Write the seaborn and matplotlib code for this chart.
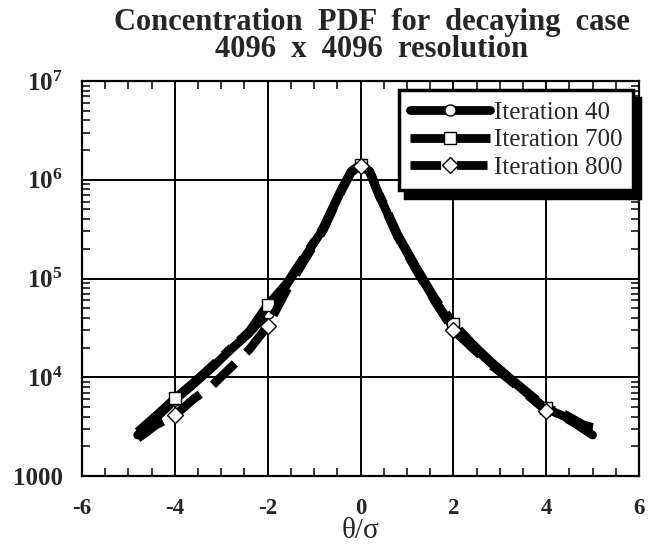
import numpy as np
import pandas as pd
import seaborn as sns
import matplotlib
matplotlib.use("Agg")
import matplotlib.pyplot as plt
from matplotlib.ticker import FixedLocator, FuncFormatter, LogLocator, NullFormatter, MultipleLocator

# Normalised concentration theta/sigma
x_vals = [-4.8, -4.4, -4.0, -3.6, -3.2, -2.8, -2.4, -2.0, -1.6, -1.2, -0.8, -0.4,
          -0.2, 0.0, 0.2, 0.4, 0.8, 1.2, 1.6, 2.0, 2.4, 2.8, 3.2, 3.6, 4.0, 4.4, 4.8, 5.0]

# PDF values for each iteration
pdf_iter40 = [2.6e3, 3.9e3, 5.9e3, 8.5e3, 1.25e4, 1.9e4, 2.8e4, 4.5e4, 8.5e4, 1.65e5, 3.2e5, 8.0e5,
              1.2e6, 1.4e6, 1.2e6, 7.0e5, 2.7e5, 1.25e5, 6.0e4, 3.2e4, 2.1e4, 1.4e4, 9.8e3, 6.8e3,
              4.8e3, 4.0e3, 3.0e3, 2.6e3]
pdf_iter700 = [2.8e3, 4.1e3, 6.1e3, 8.8e3, 1.3e4, 1.95e4, 2.9e4, 5.4e4, 8.8e4, 1.7e5, 3.3e5, 8.2e5,
               1.22e6, 1.42e6, 1.22e6, 7.2e5, 2.8e5, 1.3e5, 6.3e4, 3.5e4, 2.2e4, 1.45e4, 1.0e4, 7.0e3,
               4.9e3, 4.2e3, 3.3e3, 3.1e3]
pdf_iter800 = [2.4e3, 3.3e3, 4.1e3, 6.0e3, 8.2e3, 1.25e4, 1.9e4, 3.3e4, 7.5e4, 1.55e5, 3.1e5, 7.9e5,
               1.19e6, 1.39e6, 1.19e6, 6.9e5, 2.65e5, 1.22e5, 5.9e4, 3.0e4, 2.0e4, 1.35e4, 9.5e3, 6.6e3,
               4.6e3, 3.9e3, 3.1e3, 3.0e3]

series_names = ["Iteration 40", "Iteration 700", "Iteration 800"]

df = pd.DataFrame({
    "x": x_vals * 3,
    "pdf": pdf_iter40 + pdf_iter700 + pdf_iter800,
    "series": [n for n in series_names for _ in x_vals],
})

sns.set_style("white")
plt.rcParams["font.family"] = ["Liberation Serif", "DejaVu Serif"]
plt.rcParams["mathtext.fontset"] = "custom"
plt.rcParams["mathtext.rm"] = "Liberation Serif"
plt.rcParams["mathtext.bf"] = "Liberation Serif:bold"
plt.rcParams["mathtext.default"] = "bf"

fig = plt.figure(figsize=(6.57, 5.46), dpi=100)
ax = fig.add_axes([82 / 657, 1 - 476 / 546, 557 / 657, 395 / 546])

dash_styles = {
    "Iteration 40": "",
    "Iteration 700": (12, 1.2, 1.2, 1.2),
    "Iteration 800": (3.5, 1.8),
}
marker_styles = {"Iteration 40": "o", "Iteration 700": "s", "Iteration 800": "D"}
mark_idx = [2, 7, 13, 19, 24]

sns.lineplot(data=df, x="x", y="pdf", style="series", dashes=dash_styles,
             markers=marker_styles, color="black", lw=6.3, ax=ax,
             markevery=mark_idx, markersize=8, markerfacecolor="white",
             markeredgecolor="black", markeredgewidth=1.0, sort=False,
             legend=False)

ax.set_yscale("log")
ax.set_xlim(-6, 6)
ax.set_ylim(1e3, 1e7)

ax.xaxis.set_major_locator(MultipleLocator(2))
ax.xaxis.set_minor_locator(MultipleLocator(0.5))
ax.yaxis.set_major_locator(FixedLocator([1e3, 1e4, 1e5, 1e6, 1e7]))
ax.yaxis.set_minor_locator(LogLocator(base=10, subs=np.arange(2, 10)))
ax.yaxis.set_minor_formatter(NullFormatter())


def ylab(v, pos):
    e = int(round(np.log10(v)))
    return "1000" if e == 3 else r"$\mathbf{10^{%d}}$" % e


ax.yaxis.set_major_formatter(FuncFormatter(ylab))
ax.xaxis.set_major_formatter(FuncFormatter(lambda v, p: "%d" % v))

ax.grid(True, which="major", color="black", lw=1.4)
ax.tick_params(which="major", length=0)
ax.tick_params(axis="x", which="major", pad=16, labelsize=16.5)
ax.tick_params(axis="y", which="major", pad=14, labelsize=18)
ax.tick_params(which="minor", direction="in", length=6, width=1.3,
               top=True, right=True, bottom=True, left=True)
for lab in ax.get_xticklabels() + ax.get_yticklabels():
    lab.set_fontweight("bold")
for s in ax.spines.values():
    s.set_visible(True)
    s.set_color("black")
    s.set_linewidth(1.6)

ax.set_xlabel("θ/σ", fontsize=21)
ax.xaxis.set_label_coords(0.5, -0.106)
ax.set_ylabel("")
fig.text(0.566, 0.985, "Concentration  PDF  for  decaying  case\n4096  x  4096  resolution",
         ha="center", va="top", fontsize=22, fontweight="bold", linespacing=0.92)

# Legend built from the plotted lines
handles = ax.get_lines()[:3]
leg = ax.legend(handles, series_names, loc="upper right", fontsize=18,
                handlelength=3.2, handletextpad=0.15, labelspacing=0.2,
                borderpad=0.45, borderaxespad=0.0, fancybox=False, framealpha=1,
                numpoints=1,
                shadow={"ox": 4.5, "oy": -6, "color": "black", "alpha": 1},
                bbox_to_anchor=(0.990, 0.977))
leg.get_frame().set_edgecolor("black")
leg.get_frame().set_linewidth(2.5)

fig.savefig("out.png", dpi=100)
